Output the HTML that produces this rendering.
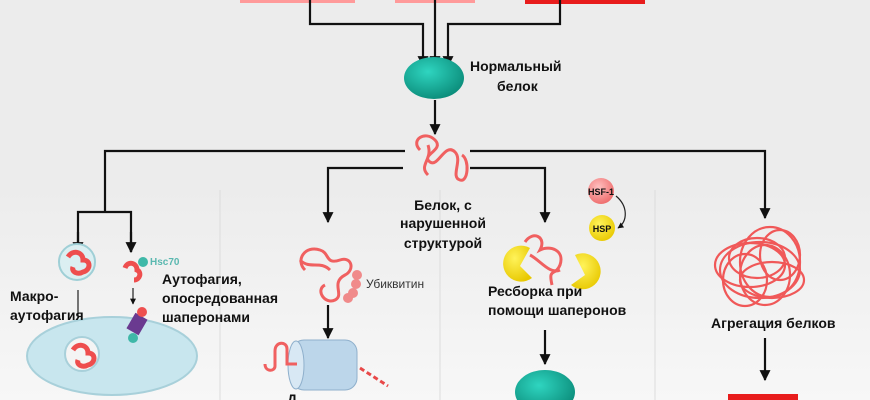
<!DOCTYPE html>
<html><head><meta charset="utf-8"><style>
html,body{margin:0;padding:0;background:#ececec;}
svg{display:block;}
text{font-family:"Liberation Sans","DejaVu Sans",sans-serif;font-weight:bold;font-size:14px;fill:#111;}
</style></head><body>
<svg width="870" height="400" viewBox="0 0 870 400">
<defs>
<marker id="a" viewBox="0 0 10 10" refX="9" refY="5" markerWidth="5" markerHeight="6" orient="auto"><path d="M0,0L10,5L0,10z" fill="#111"/></marker>
<radialGradient id="g" cx="40%" cy="35%" r="70%"><stop offset="0" stop-color="#2fd5c0"/><stop offset="1" stop-color="#0a8a78"/></radialGradient>
<radialGradient id="y" cx="40%" cy="35%" r="70%"><stop offset="0" stop-color="#fff35a"/><stop offset="1" stop-color="#e8c800"/></radialGradient>
<radialGradient id="r" cx="40%" cy="35%" r="70%"><stop offset="0" stop-color="#ffc0c0"/><stop offset="1" stop-color="#ee6a6a"/></radialGradient>
<linearGradient id="p" x1="0" y1="0" x2="0" y2="1"><stop offset="0" stop-color="#ececec"/><stop offset="1" stop-color="#f7f7f7"/></linearGradient>
</defs>
<rect width="870" height="400" fill="#ececec"/>
<rect x="0" y="185" width="870" height="215" fill="url(#p)"/>
<line x1="220" y1="190" x2="220" y2="400" stroke="#dcdcdc"/>
<line x1="440" y1="190" x2="440" y2="400" stroke="#dcdcdc"/>
<line x1="655" y1="190" x2="655" y2="400" stroke="#dcdcdc"/>
<rect x="240" y="0" width="115" height="3" fill="#ff9a9a"/>
<rect x="395" y="0" width="80" height="3" fill="#ff9a9a"/>
<rect x="525" y="0" width="120" height="4" fill="#e81c1c"/>
<g fill="none" stroke="#111" stroke-width="2.2">
<path d="M310,0V24H423V66" marker-end="url(#a)"/>
<path d="M435,0V66" marker-end="url(#a)"/>
<path d="M560,0V24H448V66" marker-end="url(#a)"/>
<path d="M435,100V134" marker-end="url(#a)"/>
<path d="M405,151H105V212" />
<path d="M78,252V212H131V252" />
<path d="M78,232V252" marker-end="url(#a)"/>
<path d="M131,232V252" marker-end="url(#a)"/>
<path d="M403,168H328V222" marker-end="url(#a)"/>
<path d="M470,168H545V222" marker-end="url(#a)"/>
<path d="M470,151H765V218" marker-end="url(#a)"/>
<path d="M328,305V338" marker-end="url(#a)"/>
<path d="M545,330V364" marker-end="url(#a)"/>
<path d="M765,338V380" marker-end="url(#a)"/>
</g>
<path d="M78,290V316 M133,288V304" stroke="#222" stroke-width="1.2" marker-end="url(#a)"/>
<ellipse cx="434" cy="78" rx="30" ry="21" fill="url(#g)"/>
<text x="470" y="71">Нормальный</text><text x="497" y="91">белок</text>
<path d="M420,150c-10,-10 5,-20 15,-10c10,10 -15,15 -5,22c8,6 15,-20 25,-10c8,8 -5,25 5,28c8,3 10,-20 2,-25M428,145c5,15 -10,20 0,30" fill="none" stroke="#f06060" stroke-width="3"/>
<text x="443" y="210" text-anchor="middle">Белок, с</text>
<text x="443" y="228" text-anchor="middle">нарушенной</text>
<text x="443" y="248" text-anchor="middle">структурой</text>
<circle cx="601" cy="191" r="13" fill="url(#r)"/><text x="601" y="195" text-anchor="middle" style="font-size:9px">HSF-1</text>
<path d="M616,196c12,10 12,25 2,32" fill="none" stroke="#222" stroke-width="1.2" marker-end="url(#a)"/>
<circle cx="602" cy="228" r="13" fill="url(#y)"/><text x="602" y="232" text-anchor="middle" style="font-size:9px">HSP</text>
<path d="M530,248a18,18 0 1 0 2,30l-12,-12z" fill="url(#y)"/>
<path d="M575,255a18,18 0 1 1 -4,30l14,-10z" fill="url(#y)"/>
<path d="M525,242c8,-12 22,-5 15,8c10,-5 25,0 20,15c-5,12 -12,2 -8,20M530,255c10,5 20,20 30,15" fill="none" stroke="#f06060" stroke-width="3"/>
<text x="488" y="296">Ресборка при</text>
<text x="488" y="315">помощи шаперонов</text>
<ellipse cx="545" cy="392" rx="30" ry="22" fill="url(#g)"/>
<g fill="none" stroke="#f05858" stroke-width="2.2">
<ellipse cx="760" cy="270" rx="40" ry="28"/><ellipse cx="770" cy="262" rx="30" ry="35"/><ellipse cx="750" cy="265" rx="35" ry="22"/><ellipse cx="765" cy="275" rx="25" ry="30"/>
<ellipse cx="757" cy="258" rx="28" ry="20"/><ellipse cx="772" cy="280" rx="32" ry="18"/><ellipse cx="745" cy="280" rx="22" ry="26"/><ellipse cx="780" cy="255" rx="20" ry="25"/>
</g>
<text x="711" y="328">Агрегация белков</text>
<rect x="728" y="394" width="70" height="6" fill="#e81c1c"/>
<path d="M305,270c-10,-10 0,-25 15,-20c10,3 5,15 20,10c12,-4 15,10 5,15c-15,8 0,20 -10,25c-10,5 -20,-10 -10,-15M300,260c10,10 20,0 30,10" fill="none" stroke="#f06060" stroke-width="3"/>
<circle cx="357" cy="275" r="5" fill="#f08a8a"/><circle cx="356" cy="284" r="5" fill="#f08a8a"/><circle cx="353" cy="293" r="5" fill="#f08a8a"/><circle cx="348" cy="298" r="5" fill="#f08a8a"/>
<text x="366" y="288" style="font-weight:normal;font-size:12px;fill:#333">Убиквитин</text>
<rect x="292" y="340" width="65" height="50" rx="12" fill="#bcd6ea" stroke="#8fb0cc"/>
<ellipse cx="296" cy="365" rx="8" ry="24" fill="#d8e8f4" stroke="#8fb0cc"/>
<path d="M297,364h-10v-15c0,-8 -12,-8 -12,2v15c0,6 -10,6 -10,-2" fill="none" stroke="#f06060" stroke-width="3"/>
<path d="M360,368l28,18" stroke="#e84848" stroke-width="3" stroke-dasharray="5,3"/>
<text x="287" y="404">Д</text>
<circle cx="77" cy="262" r="18" fill="#dbeff2" stroke="#9fcfd6" stroke-width="2"/>
<path d="M68,257c5,-8 15,-5 15,3c8,0 8,10 0,12c-5,3 -12,0 -10,-5" fill="none" stroke="#ee4e4e" stroke-width="5"/>
<ellipse cx="112" cy="356" rx="85" ry="39" fill="#c8e6ee" stroke="#a8d0da" stroke-width="2"/>
<circle cx="82" cy="354" r="17" fill="#f4f4f4" stroke="#a8d0da" stroke-width="2"/>
<path d="M73,350c5,-8 15,-5 15,3c8,0 8,10 0,12c-5,3 -12,0 -10,-5" fill="none" stroke="#ee4e4e" stroke-width="5"/>
<path d="M125,268c3,-8 12,-5 12,2c5,2 3,10 -3,10" fill="none" stroke="#ee4e4e" stroke-width="5"/>
<circle cx="143" cy="262" r="5" fill="#3fb8a8"/>
<text x="150" y="265" style="font-size:10px;fill:#5ab8b0">Hsc70</text>
<rect x="130" y="315" width="14" height="18" fill="#6a3a90" transform="rotate(30 137 324)"/>
<circle cx="142" cy="312" r="5" fill="#ee5050"/>
<circle cx="133" cy="338" r="5" fill="#3fb8a8"/>
<text x="10" y="301">Макро-</text>
<text x="10" y="320">аутофагия</text>
<text x="162" y="284">Аутофагия,</text>
<text x="162" y="303">опосредованная</text>
<text x="162" y="322">шаперонами</text>
</svg>
</body></html>
